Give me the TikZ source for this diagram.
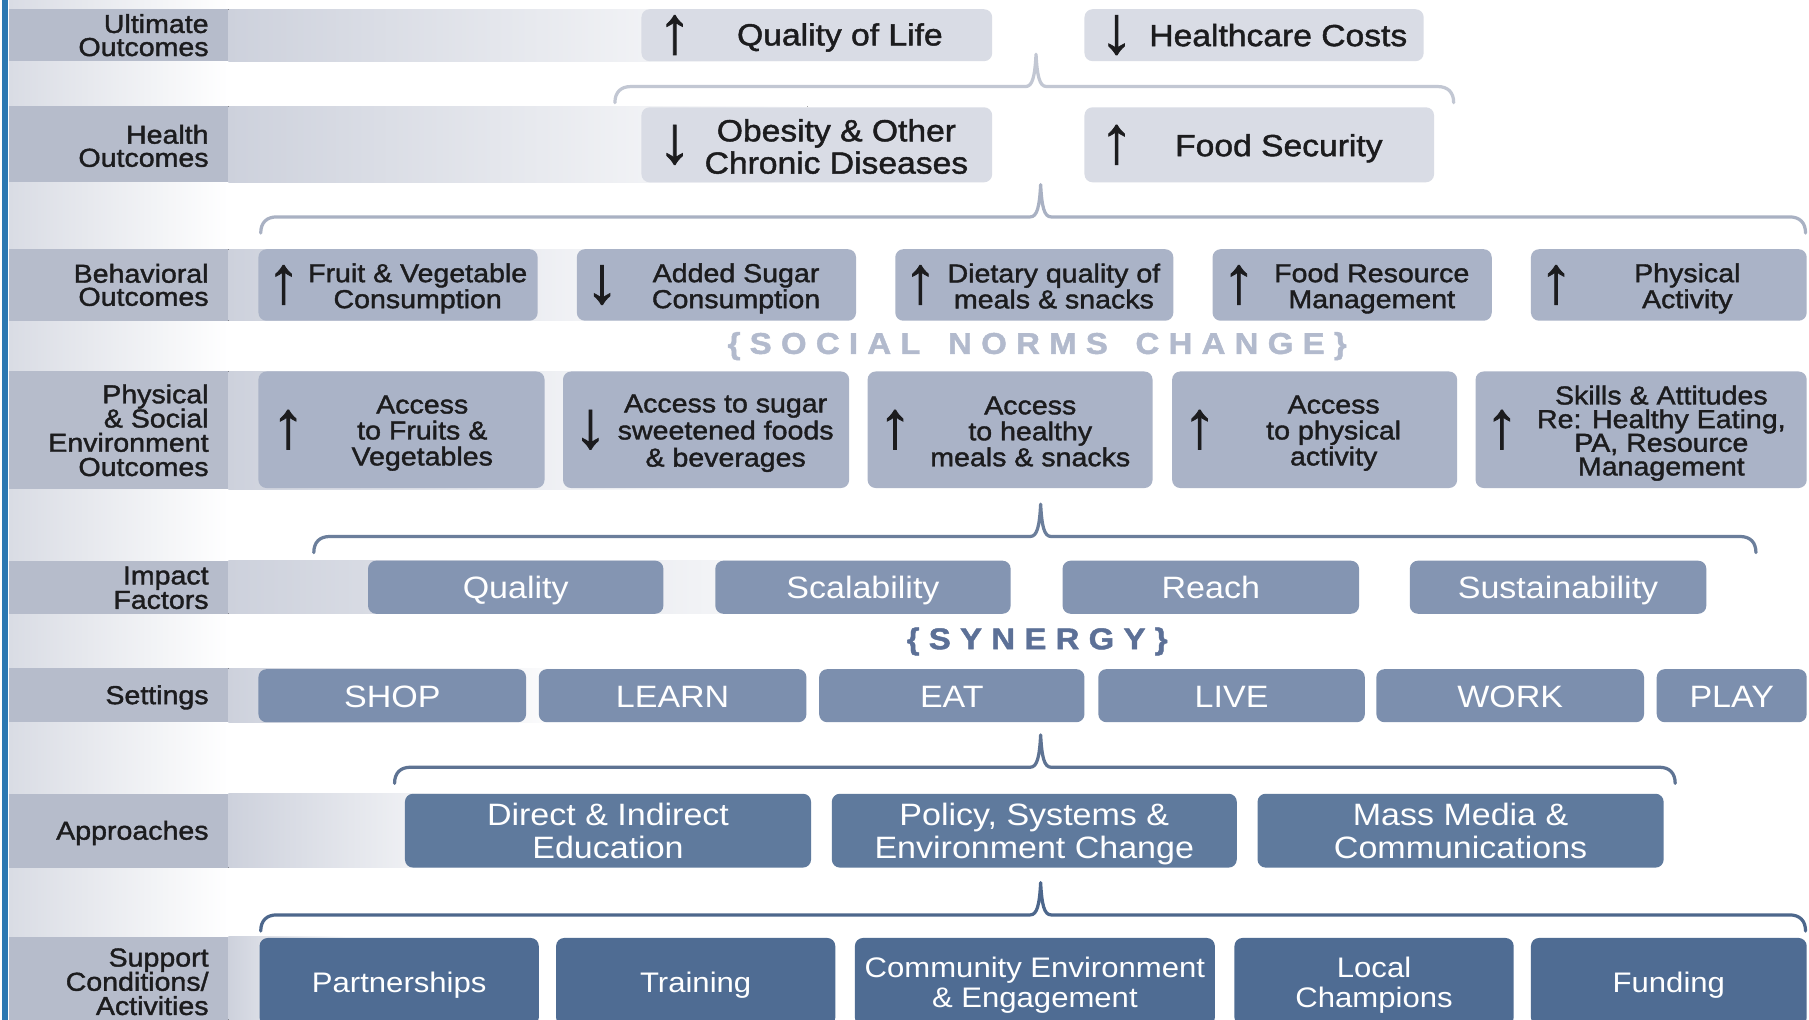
\documentclass[tikz,border=0pt]{standalone}
\usepackage{fontspec}
\setmainfont{Liberation Sans}[FakeStretch=1.1]
\newfontfamily\inkfont{Liberation Sans}[FakeStretch=1.1, FakeBold=1.5]
\newfontfamily\arrowfont{Liberation Sans}[FakeBold=1.2]

\definecolor{edgeblue}{HTML}{2B78B2}
\definecolor{labcol}{HTML}{B6BCCB}
\definecolor{bandstart}{HTML}{CDD1DC}
\definecolor{gapcol}{HTML}{D9DCE4}
\definecolor{fillA}{HTML}{D9DCE5}
\definecolor{fillB}{HTML}{AAB3C7}
\definecolor{fillC}{HTML}{8495B2}
\definecolor{fillD}{HTML}{7C8FAE}
\definecolor{fillE}{HTML}{5F7A9D}
\definecolor{fillF}{HTML}{4F6C93}
\definecolor{braceA}{HTML}{C2C7D3}
\definecolor{braceB}{HTML}{A9B1C3}
\definecolor{braceC}{HTML}{6B7E9B}
\definecolor{braceD}{HTML}{5E7393}
\definecolor{braceE}{HTML}{4D678C}
\definecolor{normscol}{HTML}{B2BACD}
\definecolor{synergycol}{HTML}{5C7097}
\definecolor{inkcol}{HTML}{1C1C1E}

% box node from its edges: name, style, x0, x1, y0, y1
\newcommand\bx[6]{\node[#2, minimum width={(#4-#3)*1pt}, minimum height={(#6-#5)*1pt}] (#1) at ({(#3+#4)/2},{(#5+#6)/2}) {};}
% row band: y0, y1, end of the fading part
\newcommand\band[3]{%
  \fill[labcol] (8,#1) rectangle (198,#2);
  \fill[left color=bandstart, right color=white] (198,#1) rectangle (#3,#2);}
% brace with a centre spike: name, x0, x1, xc, yb, style
\newcommand\hbrace[6]{%
  \coordinate (#1l) at (#2,#5+14);
  \coordinate (#1r) at (#3,#5+14);
  \coordinate (#1m) at (#4,#5-28);
  \draw[bracepath,#6] (#1l) .. controls (#2,#5+5) and (#2+5,#5) .. (#2+14,#5)
    -- (#4-9,#5) .. controls (#4-3,#5) and (#4-1,#5-9) .. (#1m)
    .. controls (#4+1,#5-9) and (#4+3,#5) .. (#4+9,#5)
    -- (#3-14,#5) .. controls (#3-5,#5) and (#3,#5+5) .. (#1r);}
\newcommand\tk{\kern8pt}

\begin{document}
\begin{tikzpicture}[x=1pt,y=-1pt,
  lab/.style={anchor=east, align=right, inner sep=0pt, text=inkcol,
    font=\inkfont\fontsize{22.5}{20}\selectfont},
  boxA/.style={rounded corners=7pt, fill=fillA, inner sep=0pt},
  boxB/.style={rounded corners=7pt, fill=fillB, inner sep=0pt},
  boxC/.style={rounded corners=7pt, fill=fillC, inner sep=0pt},
  boxD/.style={rounded corners=7pt, fill=fillD, inner sep=0pt},
  boxE/.style={rounded corners=7pt, fill=fillE, inner sep=0pt},
  boxF/.style={rounded corners=7pt, fill=fillF, inner sep=0pt},
  txtA/.style={align=center, inner sep=0pt, text=inkcol, yshift=-3pt,
    font=\inkfont\fontsize{26.5}{28}\selectfont},
  txtB/.style={align=center, inner sep=0pt, text=inkcol, yshift=-3pt,
    font=\inkfont\fontsize{22.5}{22.5}\selectfont},
  txtW/.style={align=center, inner sep=0pt, text=white, yshift=-3pt,
    font=\fontsize{26.8}{29}\selectfont},
  txtS/.style={align=center, inner sep=0pt, text=white, yshift=-3pt,
    font=\fontsize{24.5}{26}\selectfont},
  arr/.style={inner sep=0pt, text=inkcol, font=\arrowfont\fontsize{58}{58}\selectfont},
  bracepath/.style={line width=2.8pt, line cap=round, line join=round},
  norms/.style={inner sep=0pt, font=\inkfont\fontsize{26}{26}\selectfont\bfseries}
]
\useasboundingbox (0,0) rectangle (1568,884);
\clip (0,0) rectangle (1568,884);
\fill[white] (0,0) rectangle (1568,884);

% left label column and its edge
\fill[left color=gapcol, right color=white] (8,0) rectangle (198,884);
\fill[edgeblue] (2,0) rectangle (7,884);

% row bands
\band{8}{53}{700}
\band{92}{158}{700}
\band{216}{278}{620}
\band{322}{424}{620}
\band{486}{532}{760}
\band{579}{626}{500}
\band{688}{752}{430}
\band{812}{884}{300}

% row labels
\node[lab] (lult) at (181,30.5) {Ultimate\\Outcomes};
\node[lab, yshift=-1.5pt] (lhea) at (181,125) {Health\\Outcomes};
\node[lab] (lbeh) at (181,247) {Behavioral\\Outcomes};
\node[lab, font=\inkfont\fontsize{22.5}{21}\selectfont] (lenv) at (181,373) {Physical\\\& Social\\Environment\\Outcomes};
\node[lab] (limp) at (181,509.5) {Impact\\Factors};
\node[lab, yshift=-2pt] (lset) at (181,602.5) {Settings};
\node[lab, yshift=-2pt] (lapp) at (181,720) {Approaches};
\node[lab, font=\inkfont\fontsize{22.5}{21}\selectfont] (lsup) at (181,851) {Support\\Conditions/\\Activities};

% braces between the levels
\hbrace{ba}{533}{1260}{898}{75}{braceA}
\hbrace{bb}{226}{1565}{902}{188}{braceB}
\hbrace{bc}{272}{1522}{902}{465}{braceC}
\hbrace{bd}{342}{1452}{902}{665}{braceD}
\hbrace{be}{226}{1565}{902}{793}{braceE}

% ultimate outcomes
\bx{u1}{boxA}{556}{860}{8}{53}
\node[arr] (u1a) at ([xshift=29pt]u1.west) {↑};
\node[txtA, yshift=1pt] (u1t) at ([xshift=20pt]u1.center) {Quality of Life};
\bx{u2}{boxA}{940}{1234}{8}{53}
\node[arr] (u2a) at ([xshift=28pt]u2.west) {↓};
\node[txtA, yshift=3pt] (u2t) at ([xshift=21pt]u2.center) {Healthcare Costs};

% health outcomes
\bx{h1}{boxA}{556}{860}{93}{158}
\node[arr] (h1a) at ([xshift=29pt]h1.west) {↓};
\node[txtA, yshift=1.5pt] (h1t) at ([xshift=17pt]h1.center) {Obesity \& Other\\Chronic Diseases};
\bx{h2}{boxA}{940}{1243}{93}{158}
\node[arr] (h2a) at ([xshift=28pt]h2.west) {↑};
\node[txtA] (h2t) at ([xshift=17pt]h2.center) {Food Security};

% behavioral outcomes
\bx{o1}{boxB}{224}{466}{216}{278}
\node[arr] (o1a) at ([xshift=22pt]o1.west) {↑};
\node[txtB] (o1t) at ([xshift=17pt]o1.center) {Fruit \& Vegetable\\Consumption};
\bx{o2}{boxB}{500}{742}{216}{278}
\node[arr] (o2a) at ([xshift=22pt]o2.west) {↓};
\node[txtB] (o2t) at ([xshift=17pt]o2.center) {Added Sugar\\Consumption};
\bx{o3}{boxB}{776}{1017}{216}{278}
\node[arr] (o3a) at ([xshift=22pt]o3.west) {↑};
\node[txtB, yshift=2pt] (o3t) at ([xshift=17pt]o3.center) {Dietary quality of\\meals \& snacks};
\bx{o4}{boxB}{1051}{1293}{216}{278}
\node[arr] (o4a) at ([xshift=23pt]o4.west) {↑};
\node[txtB] (o4t) at ([xshift=17pt]o4.center) {Food Resource\\Management};
\bx{o5}{boxB}{1327}{1566}{216}{278}
\node[arr] (o5a) at ([xshift=22pt]o5.west) {↑};
\node[txtB] (o5t) at ([xshift=16pt]o5.center) {Physical\\Activity};

\node[norms, text=normscol] (snc) at (899,300)
  {\{\tk S\tk O\tk C\tk I\tk A\tk L\tk\ \tk N\tk O\tk R\tk M\tk S\tk\ \tk C\tk H\tk A\tk N\tk G\tk E\tk\}};

% physical and social environment outcomes
\bx{e1}{boxB}{224}{472}{322}{423}
\node[arr] (e1a) at ([xshift=26pt]e1.west) {↑};
\node[txtB] (e1t) at ([xshift=18pt]e1.center) {Access\\to Fruits \&\\Vegetables};
\bx{e2}{boxB}{488}{736}{322}{423}
\node[arr] (e2a) at ([xshift=24pt]e2.west) {↓};
\node[txtB, font=\inkfont\fontsize{22.5}{23.5}\selectfont] (e2t) at ([xshift=17pt]e2.center) {Access to sugar\\sweetened foods\\\& beverages};
\bx{e3}{boxB}{752}{999}{322}{423}
\node[arr] (e3a) at ([xshift=24pt]e3.west) {↑};
\node[txtB, yshift=1.5pt] (e3t) at ([xshift=17.5pt]e3.center) {Access\\to healthy\\meals \& snacks};
\bx{e4}{boxB}{1016}{1263}{322}{423}
\node[arr] (e4a) at ([xshift=24pt]e4.west) {↑};
\node[txtB] (e4t) at ([xshift=16.5pt]e4.center) {Access\\to physical\\activity};
\bx{e5}{boxB}{1279}{1566}{322}{423}
\node[arr] (e5a) at ([xshift=23pt]e5.west) {↑};
\node[txtB, font=\inkfont\fontsize{22.5}{20.5}\selectfont] (e5t) at ([xshift=17.5pt]e5.center)
  {Skills \& Attitudes\\Re: Healthy Eating,\\PA, Resource\\Management};

% impact factors
\bx{i1}{boxC}{319}{575}{486}{532}
\node[txtW] (i1t) at (i1.center) {Quality};
\bx{i2}{boxC}{620}{876}{486}{532}
\node[txtW] (i2t) at (i2.center) {Scalability};
\bx{i3}{boxC}{921}{1178}{486}{532}
\node[txtW, yshift=3pt] (i3t) at (i3.center) {Reach};
\bx{i4}{boxC}{1222}{1479}{486}{532}
\node[txtW] (i4t) at (i4.center) {Sustainability};

\node[norms, text=synergycol] (syn) at (899,556)
  {\{\tk S\tk Y\tk N\tk E\tk R\tk G\tk Y\tk\}};

% settings
\bx{s1}{boxD}{224}{456}{580}{626}
\node[txtW, yshift=2pt] (s1t) at (s1.center) {SHOP};
\bx{s2}{boxD}{467}{699}{580}{626}
\node[txtW, yshift=2pt] (s2t) at (s2.center) {LEARN};
\bx{s3}{boxD}{710}{940}{580}{626}
\node[txtW, yshift=2pt] (s3t) at (s3.center) {EAT};
\bx{s4}{boxD}{952}{1183}{580}{626}
\node[txtW, yshift=2pt] (s4t) at (s4.center) {LIVE};
\bx{s5}{boxD}{1193}{1425}{580}{626}
\node[txtW, yshift=2pt] (s5t) at (s5.center) {WORK};
\bx{s6}{boxD}{1436}{1566}{580}{626}
\node[txtW, yshift=2pt] (s6t) at (s6.center) {PLAY};

% approaches
\bx{a1}{boxE}{351}{703}{688}{752}
\node[txtW, yshift=3pt] (a1t) at (a1.center) {Direct \& Indirect\\Education};
\bx{a2}{boxE}{721}{1072}{688}{752}
\node[txtW] (a2t) at (a2.center) {Policy, Systems \&\\Environment Change};
\bx{a3}{boxE}{1090}{1442}{688}{752}
\node[txtW, yshift=3pt] (a3t) at (a3.center) {Mass Media \&\\Communications};

% support conditions and activities
\bx{c1}{boxF}{225}{467}{813}{889}
\node[txtS] (c1t) at (c1.center) {Partnerships};
\bx{c2}{boxF}{482}{724}{813}{889}
\node[txtS] (c2t) at (c2.center) {Training};
\bx{c3}{boxF}{741}{1053}{813}{889}
\node[txtS] (c3t) at (c3.center) {Community Environment\\\& Engagement};
\bx{c4}{boxF}{1070}{1312}{813}{889}
\node[txtS] (c4t) at (c4.center) {Local\\Champions};
\bx{c5}{boxF}{1327}{1566}{813}{889}
\node[txtS] (c5t) at (c5.center) {Funding};
\end{tikzpicture}
\end{document}
